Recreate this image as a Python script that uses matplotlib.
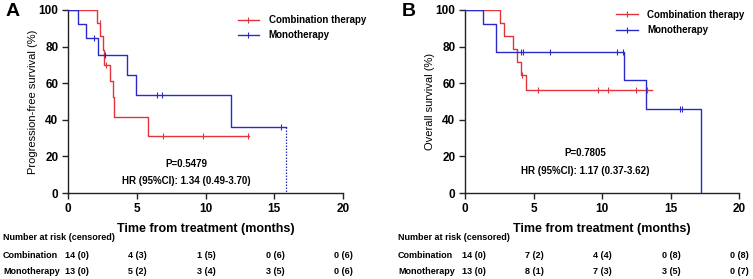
import numpy as np
import matplotlib
matplotlib.use('Agg')
import matplotlib.pyplot as plt
from matplotlib.lines import Line2D
import matplotlib.transforms as mtransforms

plt.rcParams['font.family'] = ['Liberation Sans', 'DejaVu Sans']

# Panel A - progression-free survival
comb_a_t = [0, 2.11, 2.35, 2.52, 2.65, 3.05, 3.25, 3.37, 5.82, 13.14]
comb_a_s = [100, 92.9, 85.7, 77.9, 70.1, 61.3, 52.5, 41.7, 31.3, 31.3]
comb_a_cens = [2.3, 2.75, 6.9, 9.85, 13.1]
mono_a_t = [0, 0.75, 1.29, 2.18, 4.27, 4.92, 11.83, 15.88]
mono_a_s = [100, 92.3, 84.6, 75.2, 64.5, 53.7, 35.8, 35.8]
mono_a_cens = [1.87, 2.68, 6.5, 6.86, 15.47]
mono_a_last = 15.88  # dotted drop to 0

# Panel B - overall survival
comb_b_t = [0, 2.53, 2.82, 3.48, 3.80, 4.06, 4.45, 13.63]
comb_b_s = [100, 92.9, 85.7, 78.6, 71.4, 64.3, 56.25, 56.25]
comb_b_cens = [4.14, 5.35, 9.73, 10.46, 12.48, 13.26]
mono_b_t = [0, 1.29, 2.24, 11.63, 13.24, 17.2]
mono_b_s = [100, 92.3, 76.9, 61.5, 46.1, 0]
mono_b_cens = [4.06, 4.21, 6.23, 11.07, 11.56, 15.69, 15.86]

# number at risk tables
risk_times = [0, 5, 10, 15, 20]
risk_a_comb = ['14 (0)', '4 (3)', '1 (5)', '0 (6)', '0 (6)']
risk_a_mono = ['13 (0)', '5 (2)', '3 (4)', '3 (5)', '0 (6)']
risk_b_comb = ['14 (0)', '7 (2)', '4 (4)', '0 (8)', '0 (8)']
risk_b_mono = ['13 (0)', '8 (1)', '7 (3)', '3 (5)', '0 (7)']

red = '#E5333B'
blue = '#2A2AC8'

fig = plt.figure(figsize=(7.53, 2.79), dpi=100)
W, H = 753, 279


def surv_at(t, ts, ss):
    idx = np.searchsorted(ts, t, side='right') - 1
    return ss[idx]


def km(ax, ts, ss, cens, color):
    ax.step(ts, ss, where='post', color=color, lw=1.0, zorder=3)
    cy = [surv_at(c, ts, ss) for c in cens]
    ax.plot(cens, cy, ls='none', marker='|', ms=4, mew=0.8, color=color, zorder=3)


def setup(ax, ylabel):
    ax.set_xlim(0, 20)
    ax.set_ylim(0, 100)
    ax.set_xticks([0, 5, 10, 15, 20])
    ax.set_yticks([0, 20, 40, 60, 80, 100])
    for s in ['top', 'right']:
        ax.spines[s].set_visible(False)
    for s in ['left', 'bottom']:
        ax.spines[s].set_linewidth(1.0)
        ax.spines[s].set_color('#222222')
    ax.tick_params(direction='out', length=4, width=1.0, color='#222222', labelsize=8.5, pad=3)
    for lb in ax.get_xticklabels() + ax.get_yticklabels():
        lb.set_fontweight('bold')
    ax.set_xlabel('Time from treatment (months)', fontsize=9, fontweight='bold')
    ax.xaxis.set_label_coords(0.5, -0.165)
    ax.set_ylabel(ylabel, fontsize=8)
    ax.yaxis.set_label_coords(-0.11, 0.5)


def risk_table(ax, x0_px, comb, mono):
    # x in data coords, y in figure coords
    tr = mtransforms.blended_transform_factory(ax.transData, fig.transFigure)
    fig.text(x0_px / W, 1 - 238 / H, 'Number at risk (censored)', fontsize=6.5,
             fontweight='bold', va='center', ha='left')
    fig.text(x0_px / W, 1 - 255 / H, 'Combination', fontsize=6.5,
             fontweight='bold', va='center', ha='left')
    fig.text(x0_px / W, 1 - 271 / H, 'Monotherapy', fontsize=6.5,
             fontweight='bold', va='center', ha='left')
    for i, t in enumerate(risk_times):
        xx = t + (0.65 if i == 0 else 0.05)
        ax.text(xx, 1 - 255 / H, comb[i], transform=tr, fontsize=6.5,
                fontweight='bold', ha='center', va='center', clip_on=False)
        ax.text(xx, 1 - 271 / H, mono[i], transform=tr, fontsize=6.5,
                fontweight='bold', ha='center', va='center', clip_on=False)


def legend(ax, anchor):
    handles = [Line2D([], [], color=red, lw=1.0, marker='|', ms=4, mew=0.8),
               Line2D([], [], color=blue, lw=1.0, marker='|', ms=4, mew=0.8)]
    ax.legend(handles, ['Combination therapy', 'Monotherapy'], loc='upper left',
              bbox_to_anchor=anchor, frameon=False, handlelength=2.2,
              handletextpad=1.0, labelspacing=0.55,
              prop={'size': 7, 'weight': 'bold'})


# Panel A
axA = fig.add_axes([68 / W, 1 - 193 / H, 275 / W, 183 / H])
km(axA, comb_a_t, comb_a_s, comb_a_cens, red)
km(axA, mono_a_t, mono_a_s, mono_a_cens, blue)
axA.plot([mono_a_last, mono_a_last], [mono_a_s[-1], 0], color=blue, lw=0.9, ls=(0, (1.2, 1.2)), zorder=3)
setup(axA, 'Progression-free survival (%)')
legend(axA, (0.585, 1.02))
axA.text(8.6, 16, 'P=0.5479', fontsize=7, fontweight='bold', ha='center', va='center')
axA.text(8.6, 6.7, 'HR (95%CI): 1.34 (0.49-3.70)', fontsize=7, fontweight='bold', ha='center', va='center')
risk_table(axA, 3, risk_a_comb, risk_a_mono)
fig.text(6 / W, 1 - 12 / H, 'A', fontsize=14, fontweight='bold', va='center', ha='left')

# Panel B
axB = fig.add_axes([465 / W, 1 - 193 / H, 274 / W, 183 / H])
km(axB, comb_b_t, comb_b_s, comb_b_cens, red)
km(axB, mono_b_t, mono_b_s, mono_b_cens, blue)
setup(axB, 'Overall survival (%)')
legend(axB, (0.52, 1.05))
axB.text(8.8, 22, 'P=0.7805', fontsize=7, fontweight='bold', ha='center', va='center')
axB.text(8.8, 12, 'HR (95%CI): 1.17 (0.37-3.62)', fontsize=7, fontweight='bold', ha='center', va='center')
risk_table(axB, 398, risk_b_comb, risk_b_mono)
fig.text(402 / W, 1 - 12 / H, 'B', fontsize=14, fontweight='bold', va='center', ha='left')

fig.savefig('out.png', dpi=100)
